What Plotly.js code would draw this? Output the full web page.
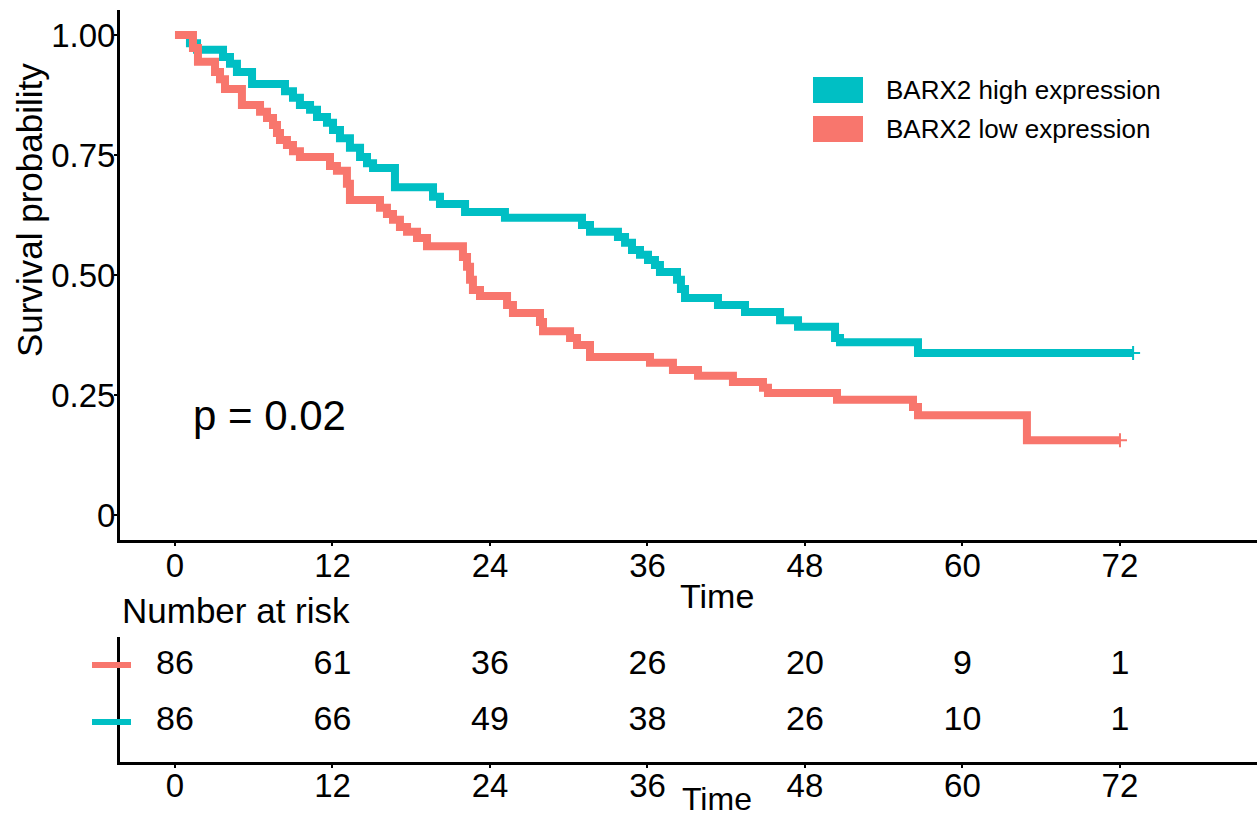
<!DOCTYPE html>
<html>
<head>
<meta charset="utf-8">
<script src="https://cdn.plot.ly/plotly-3.0.1.min.js"></script>
<style>html,body{margin:0;padding:0;background:#fff;}#chart{width:1257px;height:820px;}</style>
</head>
<body>
<div id="chart"></div>
<script>
// ---- data ----
const timeHigh = [0, 1.14, 1.68, 3.66, 4.19, 4.72, 5.87, 8.38, 8.99, 9.52, 10.29, 10.82, 11.58, 12.04, 12.57, 13.33, 14.10, 14.63, 15.09, 16.76, 19.66, 20.19, 22.10, 25.14, 31.01, 31.62, 33.75, 34.29, 34.82, 35.43, 36.04, 36.57, 36.95, 38.25, 38.55, 38.86, 41.37, 43.43, 46.10, 47.47, 50.29, 50.67, 56.61, 73.0];
const survHigh = [1.0, 0.983, 0.969, 0.954, 0.940, 0.923, 0.898, 0.883, 0.869, 0.854, 0.844, 0.829, 0.817, 0.802, 0.785, 0.765, 0.746, 0.733, 0.723, 0.683, 0.663, 0.648, 0.631, 0.619, 0.604, 0.590, 0.579, 0.567, 0.552, 0.542, 0.531, 0.521, 0.506, 0.490, 0.471, 0.452, 0.4375, 0.423, 0.406, 0.392, 0.369, 0.360, 0.3375, 0.3375];
const timeLow = [0, 1.37, 1.75, 3.05, 3.43, 3.81, 5.10, 6.48, 7.01, 7.47, 7.77, 8.00, 8.53, 8.99, 9.52, 11.81, 12.34, 13.10, 13.33, 15.62, 16.15, 16.61, 17.14, 17.68, 18.44, 19.20, 21.94, 22.25, 22.48, 22.70, 23.24, 25.30, 25.75, 27.81, 28.04, 30.10, 30.63, 31.62, 36.19, 37.94, 39.85, 42.51, 44.80, 45.18, 50.44, 56.23, 56.61, 64.91, 72.0];
const survLow = [1.0, 0.973, 0.944, 0.923, 0.908, 0.8875, 0.854, 0.840, 0.827, 0.8125, 0.796, 0.781, 0.771, 0.758, 0.746, 0.727, 0.717, 0.690, 0.656, 0.640, 0.627, 0.615, 0.600, 0.590, 0.577, 0.560, 0.5375, 0.517, 0.490, 0.469, 0.456, 0.4375, 0.421, 0.402, 0.383, 0.369, 0.354, 0.329, 0.317, 0.302, 0.290, 0.277, 0.265, 0.254, 0.240, 0.225, 0.208, 0.156, 0.156];
const censorHighT = [73.0];
const censorHighS = [0.3375];
const censorLowT = [72.0];
const censorLowS = [0.156];

const riskTimes = [0, 12, 24, 36, 48, 60, 72];
const riskLow = [86, 61, 36, 26, 20, 9, 1];
const riskHigh = [86, 66, 49, 38, 26, 10, 1];
const xTicks = [0, 12, 24, 36, 48, 60, 72];
const yTicks = [0, 0.25, 0.5, 0.75, 1.0];
const yTickText = ['0', '0.25', '0.50', '0.75', '1.00'];
const groupNames = ['BARX2 high expression', 'BARX2 low expression'];
const pText = 'p = 0.02';

// ---- styling ----
const TEAL = '#00BFC4';
const RED = '#F8766D';
const FONT = 'Liberation Sans, Arial, sans-serif';
const W = 1257, H = 820;
const px = v => v / W;
const py = v => 1 - v / H;

const riskFont = {family: FONT, size: 34, color: '#000'};
const traces = [
  {x: timeHigh, y: survHigh, type: 'scatter', mode: 'lines', line: {shape: 'hv', color: TEAL, width: 8}, xaxis: 'x', yaxis: 'y', name: groupNames[0], showlegend: false},
  {x: timeLow, y: survLow, type: 'scatter', mode: 'lines', line: {shape: 'hv', color: RED, width: 8}, xaxis: 'x', yaxis: 'y', name: groupNames[1], showlegend: false},
  {x: censorHighT, y: censorHighS, type: 'scatter', mode: 'markers', marker: {symbol: 'cross-thin', size: 10, line: {color: TEAL, width: 2}}, xaxis: 'x', yaxis: 'y', showlegend: false},
  {x: censorLowT, y: censorLowS, type: 'scatter', mode: 'markers', marker: {symbol: 'cross-thin', size: 10, line: {color: RED, width: 2}}, xaxis: 'x', yaxis: 'y', showlegend: false},
  {x: riskTimes, y: riskTimes.map(() => 1), text: riskLow.map(String), type: 'scatter', mode: 'text', textposition: 'middle center', textfont: riskFont, xaxis: 'x2', yaxis: 'y2', showlegend: false, cliponaxis: false},
  {x: riskTimes, y: riskTimes.map(() => 0), text: riskHigh.map(String), type: 'scatter', mode: 'text', textposition: 'middle center', textfont: riskFont, xaxis: 'x2', yaxis: 'y2', showlegend: false, cliponaxis: false}
];

const xr = [-4.19, 82.44];
const axisCommon = {
  showgrid: false, zeroline: false, showline: true, linecolor: '#000', linewidth: 3,
  ticks: 'outside', ticklen: 3, tickwidth: 2, tickcolor: '#000',
  tickfont: {family: FONT, size: 33, color: '#000'}
};

const layout = {
  width: W, height: H,
  margin: {l: 0, r: 0, t: 0, b: 0},
  paper_bgcolor: '#fff', plot_bgcolor: '#fff',
  showlegend: false,
  xaxis: Object.assign({}, axisCommon, {domain: [px(120), 1], range: xr, tickvals: xTicks, ticktext: xTicks.map(String), anchor: 'y', ticklabelstandoff: -9}),
  yaxis: Object.assign({}, axisCommon, {domain: [py(540), py(10)], range: [-0.052, 1.052], tickvals: yTicks, ticktext: yTickText, anchor: 'x', ticklabelstandoff: -8}),
  xaxis2: Object.assign({}, axisCommon, {domain: [px(120), 1], range: xr, tickvals: xTicks, ticktext: xTicks.map(String), anchor: 'y2', ticklabelstandoff: -11}),
  yaxis2: Object.assign({}, axisCommon, {domain: [py(762), py(637)], range: [-0.702, 1.491], showticklabels: false, ticks: '', anchor: 'x2'}),
  shapes: [
    {type: 'rect', xref: 'paper', yref: 'paper', x0: px(813), x1: px(863), y0: py(103), y1: py(77), fillcolor: TEAL, line: {width: 0}},
    {type: 'rect', xref: 'paper', yref: 'paper', x0: px(813), x1: px(863), y0: py(142), y1: py(116), fillcolor: RED, line: {width: 0}},
    {type: 'line', xref: 'paper', yref: 'y2', x0: px(92), x1: px(131), y0: 1, y1: 1, line: {color: RED, width: 6}},
    {type: 'line', xref: 'paper', yref: 'y2', x0: px(92), x1: px(131), y0: 0, y1: 0, line: {color: TEAL, width: 6}}
  ],
  annotations: [
    {text: groupNames[0], xref: 'paper', yref: 'paper', x: px(884), y: py(90), xanchor: 'left', yanchor: 'middle', showarrow: false, font: {family: FONT, size: 26, color: '#000'}},
    {text: groupNames[1], xref: 'paper', yref: 'paper', x: px(884), y: py(129), xanchor: 'left', yanchor: 'middle', showarrow: false, font: {family: FONT, size: 26, color: '#000'}},
    {text: pText, xref: 'x', yref: 'y', x: 1.2, y: 0.208, xanchor: 'left', yanchor: 'middle', showarrow: false, font: {family: FONT, size: 42, color: '#000'}},
    {text: 'Survival probability', xref: 'paper', yref: 'paper', x: px(29), y: py(210), xanchor: 'center', yanchor: 'middle', textangle: -90, showarrow: false, font: {family: FONT, size: 35, color: '#000'}},
    {text: 'Time', xref: 'paper', yref: 'paper', x: px(717), y: py(596), xanchor: 'center', yanchor: 'middle', showarrow: false, font: {family: FONT, size: 34, color: '#000'}},
    {text: 'Number at risk', xref: 'paper', yref: 'paper', x: px(120), y: py(610), xanchor: 'left', yanchor: 'middle', showarrow: false, font: {family: FONT, size: 35, color: '#000'}},
    {text: 'Time', xref: 'paper', yref: 'paper', x: px(717), y: 0, xanchor: 'center', yanchor: 'bottom', yshift: 1, showarrow: false, font: {family: FONT, size: 32, color: '#000'}}
  ]
};

Plotly.newPlot('chart', traces, layout, {displayModeBar: false, staticPlot: true});
</script>
</body>
</html>
